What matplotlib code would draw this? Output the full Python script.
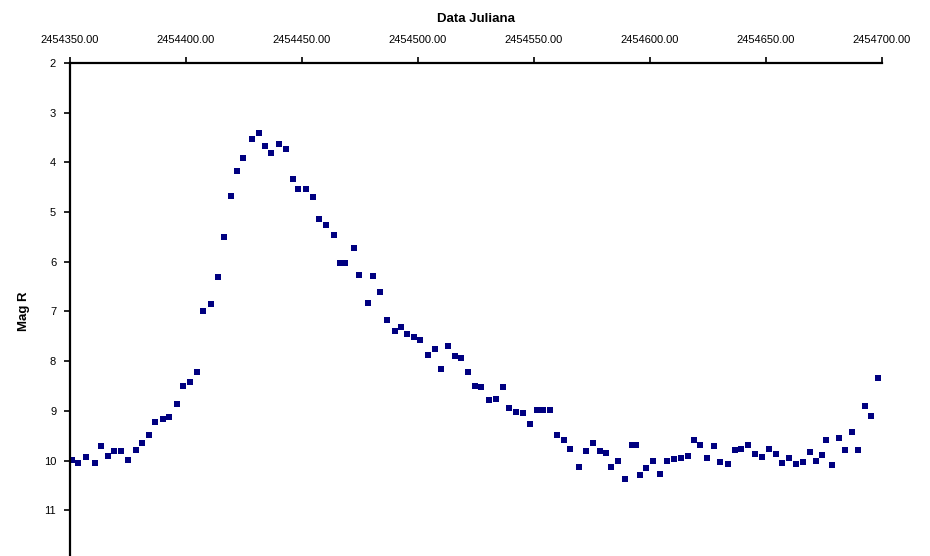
import matplotlib
matplotlib.use("Agg")
from matplotlib import pyplot as plt
from matplotlib.ticker import FormatStrFormatter, MultipleLocator

plt.rcParams['font.family'] = ['Liberation Sans', 'DejaVu Sans']

# Julian dates, as days after jd_start
jd_start = 2454350.0
days = [0.9, 3.4, 6.9, 10.8, 13.4, 16.4, 19.0, 22.0, 25.0, 28.4,
        31.0, 34.1, 36.6, 40.1, 42.7, 46.1, 48.7, 51.7, 54.7, 57.3,
        60.8, 63.8, 66.4, 69.4, 72.0, 74.6, 78.4, 81.5, 84.1, 86.6,
        90.1, 93.1, 96.1, 98.3, 101.7, 104.7, 107.3, 110.3, 113.8, 116.4,
        118.5, 122.4, 124.6, 128.4, 130.6, 133.6, 136.6, 140.1, 142.7, 145.3,
        148.3, 150.9, 154.3, 157.3, 159.9, 162.9, 165.9, 168.5, 171.6, 174.6,
        177.2, 180.6, 183.6, 186.6, 189.2, 192.2, 195.3, 198.3, 201.3, 203.9,
        206.9, 209.9, 212.9, 215.5, 219.4, 222.4, 225.4, 228.4, 231.0, 233.2,
        236.2, 239.2, 242.2, 244.0, 245.7, 248.3, 251.3, 254.3, 257.3, 260.3,
        263.4, 266.4, 269.0, 271.6, 274.6, 277.6, 280.2, 283.6, 286.6, 289.2,
        292.2, 295.3, 298.3, 301.3, 304.3, 306.9, 309.9, 312.9, 316.0, 319.0,
        321.6, 324.1, 325.9, 328.4, 331.5, 334.1, 337.1, 339.7, 342.7, 345.3,
        348.3]
mag = [9.99, 10.05, 9.93, 10.05, 9.71, 9.91, 9.81, 9.81, 9.99, 9.79,
       9.65, 9.48, 9.22, 9.16, 9.12, 8.86, 8.50, 8.42, 8.22, 6.99,
       6.85, 6.31, 5.50, 4.68, 4.17, 3.91, 3.53, 3.41, 3.67, 3.81,
       3.63, 3.73, 4.33, 4.54, 4.54, 4.70, 5.14, 5.26, 5.46, 6.02,
       6.02, 5.72, 6.27, 6.83, 6.29, 6.61, 7.17, 7.39, 7.31, 7.45,
       7.51, 7.57, 7.88, 7.75, 8.16, 7.69, 7.90, 7.94, 8.22, 8.50,
       8.52, 8.78, 8.76, 8.52, 8.94, 9.02, 9.04, 9.26, 8.98, 8.98,
       8.98, 9.48, 9.59, 9.77, 10.13, 9.81, 9.65, 9.81, 9.85, 10.13,
       10.01, 10.37, 9.69, 9.69, 10.29, 10.15, 10.01, 10.27, 10.01, 9.97,
       9.95, 9.91, 9.59, 9.69, 9.95, 9.71, 10.03, 10.07, 9.79, 9.77,
       9.69, 9.87, 9.93, 9.77, 9.87, 10.05, 9.95, 10.07, 10.03, 9.83,
       10.01, 9.89, 9.59, 10.09, 9.55, 9.79, 9.42, 9.79, 8.90, 9.10,
       8.34]
jd = [jd_start + d for d in days]

fig = plt.figure(figsize=(9.3, 5.56), dpi=100)
ax = fig.add_axes([0.0753, -0.0072, 0.8731, 0.8939])

ax.plot(jd, mag, linestyle='none', marker='s', markersize=3.8,
        color='#000080', markeredgewidth=0)

ax.set_xlim(jd_start, jd_start + 350)
ax.set_ylim(12, 2)  # magnitudes: brighter upward
ax.xaxis.set_major_locator(MultipleLocator(50))
ax.xaxis.set_major_formatter(FormatStrFormatter('%.2f'))
ax.yaxis.set_major_locator(MultipleLocator(1))

ax.xaxis.tick_top()
ax.xaxis.set_label_position('top')
for side in ['right', 'bottom']:
    ax.spines[side].set_visible(False)
for side in ['left', 'top']:
    ax.spines[side].set_linewidth(1.6)
ax.tick_params(direction='out', length=4, width=1.2, labelsize=8)
ax.tick_params(axis='x', pad=9)
ax.tick_params(axis='y', pad=6)

ax.set_xlabel('Data Juliana', fontsize=9.5, fontweight='bold', labelpad=9)
ax.set_ylabel('Mag R', fontsize=9.5, fontweight='bold', labelpad=10)

fig.savefig('out.png', dpi=100)
